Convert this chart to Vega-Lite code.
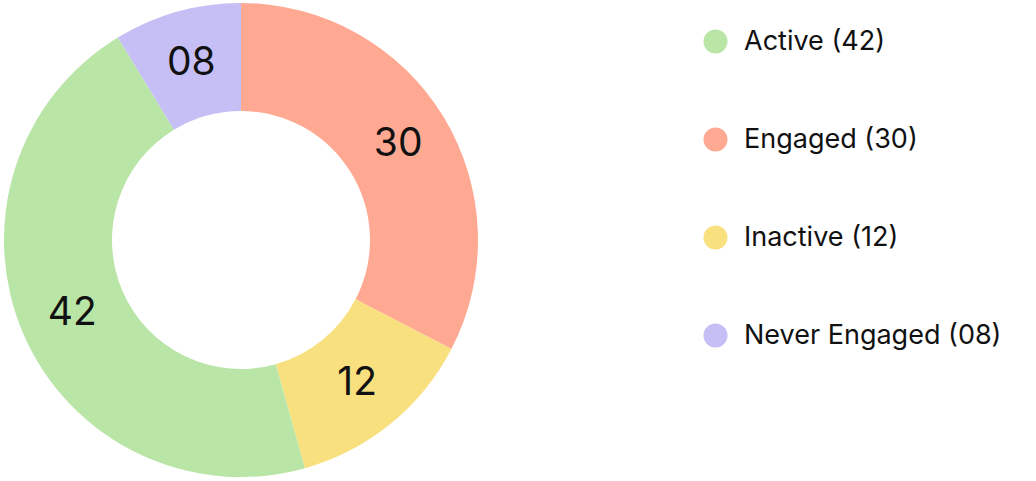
{
  "$schema": "https://vega.github.io/schema/vega-lite/v6.json",
  "width": 482,
  "height": 480,
  "autosize": "none",
  "padding": {"left": 0, "top": 0, "right": 554, "bottom": 1},
  "background": "white",
  "view": {"stroke": null},
  "data": {
    "values": [
      {"label": "Engaged (30)", "value": 30, "txt": "30", "ord": 1},
      {"label": "Inactive (12)", "value": 12, "txt": "12", "ord": 2},
      {"label": "Active (42)", "value": 42, "txt": "42", "ord": 3},
      {"label": "Never Engaged (08)", "value": 8, "txt": "08", "ord": 4}
    ]
  },
  "encoding": {
    "theta": {"field": "value", "type": "quantitative", "stack": true},
    "order": {"field": "ord", "type": "quantitative"}
  },
  "layer": [
    {
      "mark": {"type": "arc", "innerRadius": 129, "outerRadius": 237},
      "encoding": {
        "color": {
          "field": "label",
          "type": "nominal",
          "scale": {
            "domain": ["Active (42)", "Engaged (30)", "Inactive (12)", "Never Engaged (08)"],
            "range": ["#b9e5a6", "#ffa993", "#f8e07f", "#c6bff5"]
          },
          "legend": {
            "title": null,
            "orient": "none",
            "legendX": 702,
            "legendY": 28,
            "symbolType": "circle",
            "symbolSize": 576,
            "symbolStrokeWidth": 0,
            "labelFont": "Inter",
            "labelFontSize": 27,
            "labelColor": "#111111",
            "labelOffset": 15,
            "rowPadding": 70,
            "labelLimit": 400
          }
        }
      }
    },
    {
      "mark": {"type": "text", "radius": 184, "font": "Inter", "fontSize": 39, "color": "#111111"},
      "encoding": {
        "text": {"field": "txt", "type": "nominal"}
      }
    }
  ]
}
